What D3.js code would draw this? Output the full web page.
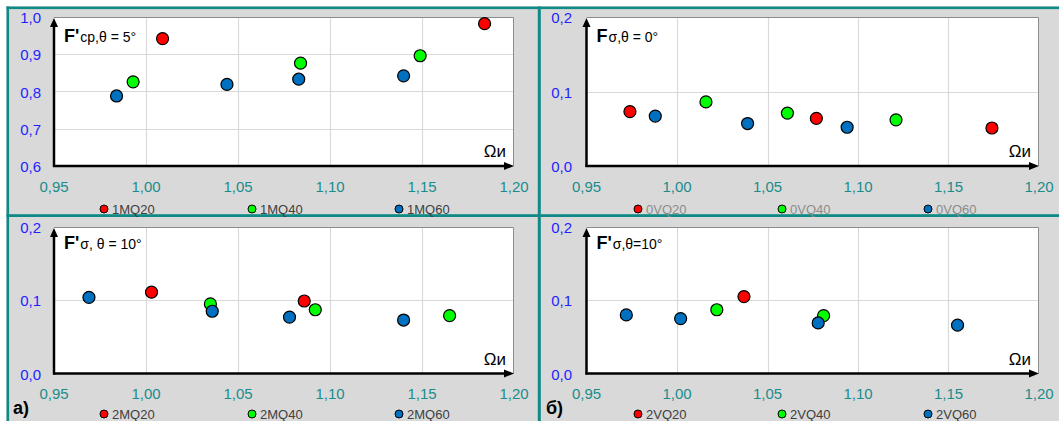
<!DOCTYPE html>
<html><head><meta charset="utf-8">
<script src="https://cdn.jsdelivr.net/npm/d3@7"></script>
<style>
body{margin:0;background:#fff;}
svg{display:block;font-family:"Liberation Sans",Arial,sans-serif;}
</style></head>
<body><svg id="c" width="1059" height="421"></svg>
<script>
// ---- data ----
const xTicks = [0.95, 1.00, 1.05, 1.10, 1.15, 1.20];
const yTicksA = [0.6, 0.7, 0.8, 0.9, 1.0];
const yTicksB = [0.0, 0.1, 0.2];

const namesP1 = ["1MQ20", "1MQ40", "1MQ60"];
const p1Q20 = [[1.009, 0.942], [1.184, 0.982]];
const p1Q40 = [[0.993, 0.826], [1.084, 0.876], [1.149, 0.896]];
const p1Q60 = [[0.984, 0.788], [1.044, 0.819], [1.083, 0.833], [1.140, 0.842]];

const namesP2 = ["0VQ20", "0VQ40", "0VQ60"];
const p2Q20 = [[0.974, 0.073], [1.077, 0.064], [1.174, 0.051]];
const p2Q40 = [[1.016, 0.086], [1.061, 0.071], [1.121, 0.062]];
const p2Q60 = [[0.988, 0.067], [1.039, 0.057], [1.094, 0.052]];

const namesP3 = ["2MQ20", "2MQ40", "2MQ60"];
const p3Q20 = [[1.003, 0.111], [1.086, 0.099]];
const p3Q40 = [[1.035, 0.095], [1.092, 0.087], [1.165, 0.079]];
const p3Q60 = [[0.969, 0.104], [1.036, 0.085], [1.078, 0.077], [1.140, 0.073]];

const namesP4 = ["2VQ20", "2VQ40", "2VQ60"];
const p4Q20 = [[1.037, 0.105]];
const p4Q40 = [[1.022, 0.087], [1.081, 0.079]];
const p4Q60 = [[0.972, 0.080], [1.002, 0.075], [1.078, 0.069], [1.155, 0.066]];

const colors = ["#ff0000", "#00ff00", "#0070c0"];

// ---- layout ----
const svg = d3.select("#c");
const teal = "#0f8a86";
svg.append("rect").attr("x", 6.5).attr("y", 6.5).attr("width", 1059).attr("height", 421).attr("fill", "#d9d9d9");
// borders
svg.append("rect").attr("x", 6.5).attr("y", 6.5).attr("width", 1053).attr("height", 2.6).attr("fill", teal);
svg.append("rect").attr("x", 6.5).attr("y", 6.5).attr("width", 2.6).attr("height", 415).attr("fill", teal);
svg.append("rect").attr("x", 6.5).attr("y", 214.2).attr("width", 1053).attr("height", 2.8).attr("fill", teal);
svg.append("rect").attr("x", 537.8).attr("y", 6.5).attr("width", 3).attr("height", 415).attr("fill", teal);

const panels = [
  {L: 54, R: 514, T: 17, B: 166, yd: [0.6, 1.0], yt: yTicksA, yfmt: d3.format(".1f"),
   t1: "F'", t2: "cp,θ = 5°", ylabX: 41, xlabY: 192, legY: 209, legX: [104, 252, 399],
   legColor: "#404040", names: namesP1, series: [p1Q20, p1Q40, p1Q60]},
  {L: 586.5, R: 1039, T: 17, B: 166, yd: [0.0, 0.2], yt: yTicksB, yfmt: d3.format(".1f"),
   t1: "F", t2: "σ,θ = 0°", ylabX: 572, xlabY: 192, legY: 209, legX: [638, 782, 928],
   legColor: "#8c8c8c", names: namesP2, series: [p2Q20, p2Q40, p2Q60]},
  {L: 54, R: 514, T: 227, B: 373.5, yd: [0.0, 0.2], yt: yTicksB, yfmt: d3.format(".1f"),
   t1: "F'", t2: "σ, θ = 10°", ylabX: 41, xlabY: 398.5, legY: 414, legX: [104, 252, 399],
   legColor: "#404040", names: namesP3, series: [p3Q20, p3Q40, p3Q60], tag: "а)", tagX: 13},
  {L: 586.5, R: 1039, T: 227, B: 373.5, yd: [0.0, 0.2], yt: yTicksB, yfmt: d3.format(".1f"),
   t1: "F'", t2: "σ,θ=10°", ylabX: 572, xlabY: 398.5, legY: 414, legX: [638, 782, 928],
   legColor: "#404040", names: namesP4, series: [p4Q20, p4Q40, p4Q60], tag: "б)", tagX: 546}
];

const comma = s => s.replace(".", ",");

panels.forEach((p, pi) => {
  const g = svg.append("g");
  const x = d3.scaleLinear().domain([0.95, 1.20]).range([p.L, p.R]);
  const y = d3.scaleLinear().domain(p.yd).range([p.B, p.T]);
  g.append("rect").attr("x", p.L).attr("y", p.T).attr("width", p.R - p.L).attr("height", p.B - p.T).attr("fill", "#fff");
  // grid
  g.selectAll(".gx").data(xTicks.slice(1, -1)).join("line")
    .attr("x1", d => Math.round(x(d)) + 0.5).attr("x2", d => Math.round(x(d)) + 0.5)
    .attr("y1", p.T).attr("y2", p.B).attr("stroke", "#d9d9d9").attr("stroke-width", 1.2);
  g.selectAll(".gy").data(p.yt.slice(1, -1)).join("line")
    .attr("y1", d => Math.round(y(d)) + 0.5).attr("y2", d => Math.round(y(d)) + 0.5)
    .attr("x1", p.L).attr("x2", p.R).attr("stroke", "#d9d9d9").attr("stroke-width", 1.2);
  // border top/right
  g.append("path").attr("d", `M${p.L},${p.T + 0.5}H${p.R - 0.5}V${p.B}`).attr("fill", "none").attr("stroke", "#8c8c8c").attr("stroke-width", 1);
  // axes with arrows
  g.append("line").attr("x1", p.L).attr("x2", p.L).attr("y1", p.B + 1).attr("y2", p.T + 8)
    .attr("stroke", "#000").attr("stroke-width", 2.5);
  g.append("path").attr("d", `M${p.L},${p.T + 1}L${p.L - 4},${p.T + 10}L${p.L + 4},${p.T + 10}Z`).attr("fill", "#000");
  g.append("line").attr("x1", p.L - 1).attr("x2", p.R - 8).attr("y1", p.B).attr("y2", p.B)
    .attr("stroke", "#000").attr("stroke-width", 2.5);
  g.append("path").attr("d", `M${p.R},${p.B}L${p.R - 10},${p.B - 4}L${p.R - 10},${p.B + 4}Z`).attr("fill", "#000");
  // tick labels
  g.selectAll(".xl").data(xTicks).join("text")
    .attr("x", d => x(d)).attr("y", p.xlabY).attr("text-anchor", "middle")
    .attr("font-size", 15).attr("fill", "#1a8c8c").text(d => comma(d3.format(".2f")(d)));
  g.selectAll(".yl").data(p.yt).join("text")
    .attr("x", p.ylabX).attr("y", d => y(d) + 6).attr("text-anchor", "end")
    .attr("font-size", 15).attr("fill", "#1f1fff").text(d => comma(p.yfmt(d)));
  // title
  const t = g.append("text").attr("x", p.L + 10).attr("y", p.T + (pi < 2 ? 24.5 : 22)).attr("fill", "#000");
  t.append("tspan").attr("font-size", 18).attr("font-weight", "bold").text(p.t1);
  t.append("tspan").attr("font-size", 14).attr("dx", 1).text(p.t2);
  // Ω label
  g.append("text").attr("x", p.R - 8).attr("y", p.B - 9).attr("text-anchor", "end")
    .attr("font-size", 17).attr("fill", "#000").text("Ωи");
  // points
  p.series.forEach((s, si) => {
    g.selectAll(".pt" + si).data(s).join("circle")
      .attr("cx", d => x(d[0])).attr("cy", d => y(d[1])).attr("r", 6)
      .attr("fill", colors[si]).attr("stroke", "#000").attr("stroke-width", 1.2);
  });
  // legend
  p.names.forEach((n, i) => {
    g.append("circle").attr("cx", p.legX[i]).attr("cy", p.legY).attr("r", 4)
      .attr("fill", colors[i]).attr("stroke", "#000").attr("stroke-width", 1);
    g.append("text").attr("x", p.legX[i] + 8).attr("y", p.legY + 4.5)
      .attr("font-size", 13).attr("fill", p.legColor).text(n);
  });
  if (p.tag) {
    g.append("text").attr("x", p.tagX).attr("y", 414).attr("font-size", 18)
      .attr("font-weight", "bold").attr("fill", "#000").text(p.tag);
  }
});
</script></body></html>
